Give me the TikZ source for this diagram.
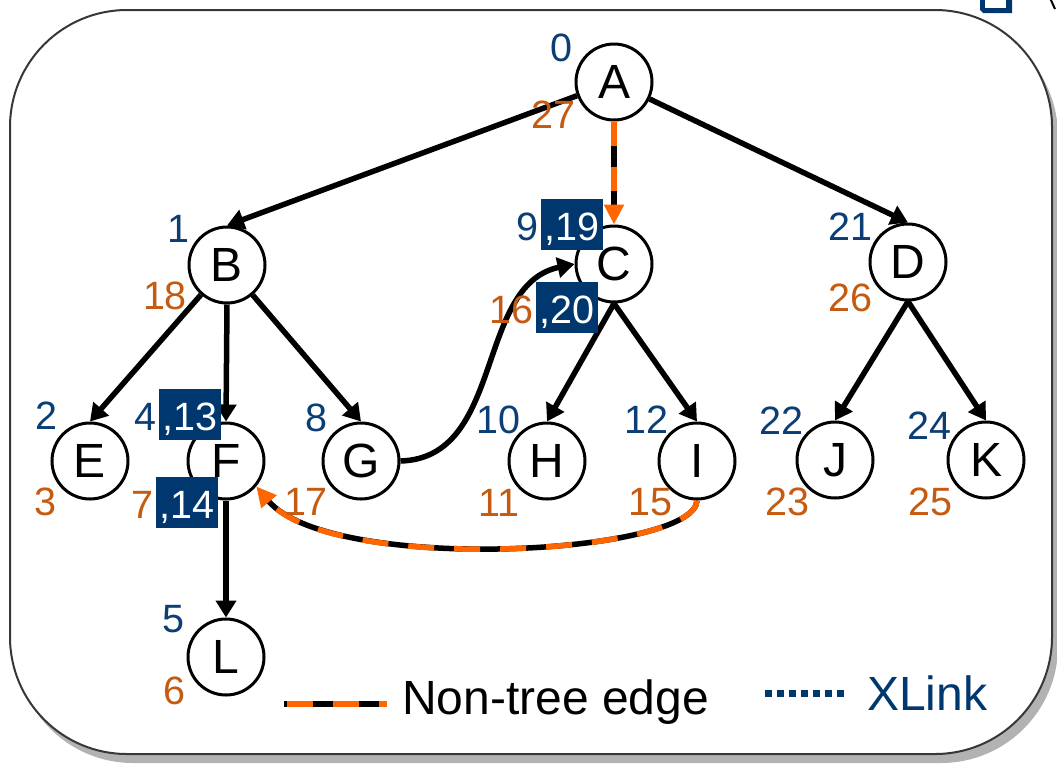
\documentclass[tikz,border=0pt]{standalone}
\usepackage{fontspec}
\setmainfont{Liberation Sans}
\usetikzlibrary{arrows.meta}
\definecolor{navy}{RGB}{0,55,110}
\definecolor{numblue}{RGB}{12,62,118}
\definecolor{numorange}{RGB}{197,90,17}
\definecolor{dashorange}{RGB}{255,102,0}
\definecolor{shadowgray}{RGB}{178,178,178}
\definecolor{framegray}{RGB}{55,55,55}

\begin{document}
\begin{tikzpicture}[x=1pt,y=-1pt,
  vertex/.style={circle,draw=black,line width=3pt,fill=white,minimum size=76pt,
    inner sep=0pt,font=\fontsize{48}{50}\selectfont},
  numfont/.style={inner sep=0pt,font=\fontsize{39.5}{42}\selectfont},
  pre/.style={numfont,text=numblue},
  post/.style={numfont,text=numorange},
  hlbox/.style={numfont,fill=navy,text=white,inner xsep=3.5pt,inner ysep=0pt,
    text height=41pt,text depth=10pt,anchor=base west},
  treeedge/.style={line width=5.5pt,-{Triangle[length=17pt,width=20pt]}},
  nontreebase/.style={line width=5.5pt,black},
  nontree/.style={line width=5.5pt,dashorange,dash pattern=on 24pt off 21pt},
  nontreetip/.style={-{Triangle[length=20pt,width=19pt]}},
  legendtext/.style={inner sep=0pt,anchor=base west,font=\fontsize{48}{50}\selectfont}
]
\useasboundingbox (0,0) rectangle (1057,764);

% rounded panel with drop shadow
\fill[shadowgray,rounded corners=117pt] (16,19) rectangle (1058,763);
\draw[framegray,line width=2pt,fill=white,rounded corners=117pt] (10,10) rectangle (1052,754);

% pieces cut off at the upper right edge
\fill[navy] (980,-5) -- (1012,-5) -- (1012,13) -- (983,13) -- (980,10) -- cycle;
\fill[white] (985,-5) rectangle (1006,8);
\draw[black,line width=2pt] (1050,-2) -- (1055,9);

% tree vertices
\node[vertex] (A) at (614,82) {A};
\node[vertex] (B) at (227,265) {B};
\node[vertex] (C) at (614,264) {C};
\node[vertex] (D) at (908,262) {D};
\node[vertex] (E) at (90,461) {E};
\node[vertex] (F) at (226,461) {F};
\node[vertex] (G) at (361,461) {G};
\node[vertex] (H) at (547,461) {H};
\node[vertex] (I) at (697,461) {I};
\node[vertex] (J) at (835,460) {J};
\node[vertex] (K) at (986,460) {K};
\node[vertex] (L) at (226,657) {L};

% tree edges
\draw[treeedge] (A) -- (B.north);
\draw[treeedge] (A) -- (D.north);
\draw[treeedge] (B) -- (E.north);
\draw[treeedge] (B.south) -- (F.north);
\draw[treeedge] (B) -- (G.north);
\draw[treeedge] (C.south) -- (H.north);
\draw[treeedge] (C.south) -- (I.north);
\draw[treeedge] (D.south) -- (J.north);
\draw[treeedge] (D.south) -- (K.north);
\draw[treeedge] (F.south) -- (L.north);

% link from G to C
\draw[treeedge] (G.east) .. controls (505,458) and (475,285) .. (C.west);

% non-tree edges
\draw[nontreebase,shorten >=18pt] (A.south) -- (C.north);
\draw[nontree,nontreetip] (A.south) -- (C.north);
\draw[nontreebase,shorten >=18pt] (I.south) .. controls (695,555) and (330,575) .. (F.-40);
\draw[nontree,dash pattern=on 26pt off 20pt,nontreetip] (I.south) .. controls (695,555) and (330,575) .. (F.-40);

% visit numbers
\node[pre] (nA) at (561,48) {0};
\node[post] (xA) at (553,115) {27};
\node[pre] (nB) at (178,229) {1};
\node[post] (xB) at (165,296) {18};
\node[hlbox] (bC1) at (541,240) {,19};
\node[pre,anchor=base east,xshift=-2.5pt] (nC) at (bC1.base west) {9};
\node[hlbox] (bC2) at (536,323) {,20};
\node[post,anchor=base east,xshift=-2pt] (xC) at (bC2.base west) {16};
\node[pre] (nD) at (850,227) {21};
\node[post] (xD) at (850,298) {26};
\node[pre] (nE) at (46,416) {2};
\node[post] (xE) at (45,502) {3};
\node[hlbox] (bF1) at (159,430) {,13};
\node[pre,anchor=base east,xshift=-2pt] (nF) at (bF1.base west) {4};
\node[hlbox] (bF2) at (156,518) {,14};
\node[post,anchor=base east,xshift=-2pt] (xF) at (bF2.base west) {7};
\node[pre] (nG) at (316,418) {8};
\node[post] (xG) at (306,502) {17};
\node[pre] (nH) at (498,420) {10};
\node[post] (xH) at (499,503) {11};
\node[pre] (nI) at (646,420) {12};
\node[post] (xI) at (650,502) {15};
\node[pre] (nJ) at (781,421) {22};
\node[post] (xJ) at (787,502) {23};
\node[pre] (nK) at (929,426) {24};
\node[post] (xK) at (930,502) {25};
\node[pre] (nL) at (173,619) {5};
\node[post] (xL) at (174,691) {6};

% legend
\coordinate (ntA) at (284,704);
\coordinate (ntB) at (387,704);
\draw[nontreebase] (ntA) -- (ntB);
\draw[nontree,dash pattern=on 26pt off 20pt,dash phase=43pt] (ntA) -- (ntB);
\node[legendtext] (ntL) at (402,714) {Non-tree edge};
\coordinate (xlA) at (765,693);
\coordinate (xlB) at (848,693);
\draw[navy,line width=7pt,dash pattern=on 7pt off 5pt] (xlA) -- (xlB);
\node[legendtext,text=navy] (xlL) at (867,710) {XLink};
\end{tikzpicture}
\end{document}
